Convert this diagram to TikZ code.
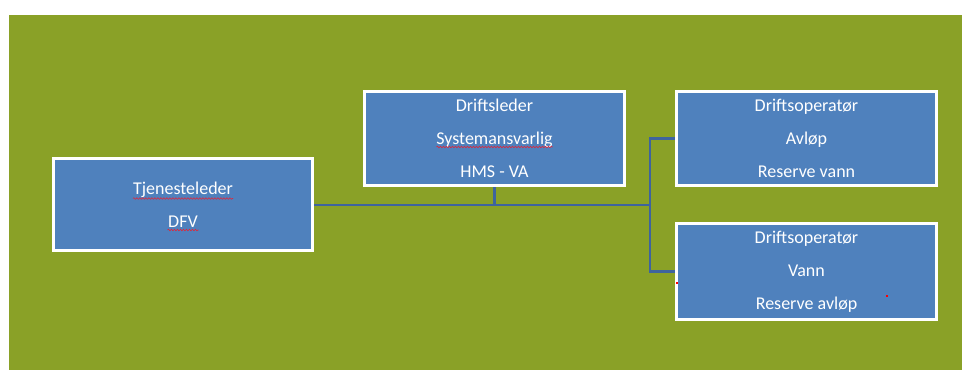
\documentclass[tikz,border=0pt]{standalone}
\usepackage{fontspec}
\setmainfont{Carlito}
\usetikzlibrary{decorations.pathmorphing,calc}
\definecolor{bggreen}{RGB}{138,161,39}
\definecolor{boxblue}{RGB}{79,129,189}
\definecolor{linkblue}{RGB}{62,100,158}
\definecolor{squigred}{RGB}{220,40,60}
\tikzset{
  orgbox/.style={draw=white, line width=2.6pt, fill=boxblue, rectangle,
    text=white, align=center, inner sep=0pt,
    font=\fontsize{18}{33}\selectfont},
  link/.style={draw=linkblue, line width=2.8pt},
  squig/.style={draw=squigred, line width=0.6pt,
    decorate, decoration={snake, amplitude=0.8pt, segment length=3pt}},
  reddot/.style={fill=red, inner sep=0pt, minimum size=2pt, rectangle},
}
\begin{document}
\begin{tikzpicture}[x=1pt,y=-1pt]
\useasboundingbox (0,0) rectangle (962,370);
\fill[white] (0,0) rectangle (962,370);
\fill[bggreen] (9,15) rectangle (962,370);

% invisible geometry first for the links
\path
  node[orgbox, draw=none, fill=none, text opacity=0, minimum width=259pt, minimum height=92pt] (a0) at (183,204.5) {}
  node[orgbox, draw=none, fill=none, minimum width=260pt, minimum height=94pt] (b0) at (494.5,138.5) {}
  node[orgbox, draw=none, fill=none, minimum width=260pt, minimum height=94pt] (c0) at (806.5,138.5) {}
  node[orgbox, draw=none, fill=none, minimum width=260pt, minimum height=96pt] (d0) at (806.5,271.5) {};
\coordinate (j) at (650,205);

% connectors
\draw[link] (a0.east |- j) -- (j);
\draw[link] (b0.south) -- (b0.south |- j);
\draw[link] (c0.west) -- (c0.west -| j) -- (d0.west -| j) -- (d0.west);

% boxes
\node[orgbox, minimum width=259pt, minimum height=92pt] (a) at (a0) {Tjenesteleder\\DFV};
\node[orgbox, minimum width=260pt, minimum height=94pt] (b) at (b0) {Driftsleder\\Systemansvarlig\\HMS - VA};
\node[orgbox, minimum width=260pt, minimum height=94pt] (c) at (c0) {Driftsoperatør\\Avløp\\Reserve vann};
\node[orgbox, minimum width=260pt, minimum height=96pt] (d) at (d0) {Driftsoperatør\\Vann\\Reserve avløp};

% spell-check underlines
\draw[squig] ($(a.center)+(-50,-6)$) -- ($(a.center)+(50,-6)$);
\draw[squig] ($(a.center)+(-15.5,25.5)$) -- ($(a.center)+(15.5,25.5)$);
\draw[squig] ($(b.center)+(-58,8.5)$) -- ($(b.center)+(58,8.5)$);

% stray red marks
\node[reddot] (r1) at (677,283) {};
\node[reddot] (r2) at (887,296) {};
\end{tikzpicture}
\end{document}
